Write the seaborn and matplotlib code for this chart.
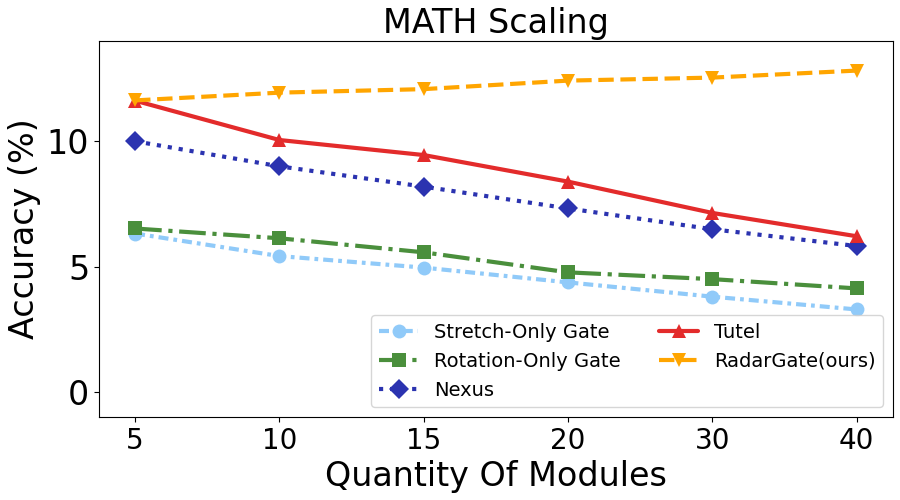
import matplotlib
matplotlib.use("Agg")
import matplotlib.pyplot as plt
import seaborn as sns
import pandas as pd

modules = ["5", "10", "15", "20", "30", "40"]
stretch_only = [6.32, 5.42, 4.96, 4.37, 3.80, 3.29]
rotation_only = [6.52, 6.13, 5.57, 4.77, 4.50, 4.13]
nexus = [10.0, 9.0, 8.19, 7.32, 6.49, 5.82]
tutel = [11.62, 10.05, 9.45, 8.39, 7.14, 6.21]
radargate = [11.63, 11.94, 12.08, 12.42, 12.54, 12.82]

series = [
    ("Stretch-Only Gate", stretch_only, "#90CAF9", "o", (0, (2.4, 1.2, 0.9, 1.2))),
    ("Rotation-Only Gate", rotation_only, "#4A8F3C", "s", "-."),
    ("Nexus", nexus, "#2B33B0", "D", ":"),
    ("Tutel", tutel, "#E32B2B", "^", "-"),
    ("RadarGate(ours)", radargate, "#FFA500", "v", "--"),
]

sns.set_style("ticks")
plt.rcParams['font.family'] = ['DejaVu Sans']
plt.rcParams['text.color'] = 'black'
plt.rcParams['axes.labelcolor'] = 'black'
plt.rcParams['xtick.color'] = 'black'
plt.rcParams['ytick.color'] = 'black'
fig, ax = plt.subplots(figsize=(9, 5), dpi=100)

for name, vals, color, marker, ls in series:
    df = pd.DataFrame({"Modules": modules, "Accuracy": vals})
    sns.lineplot(data=df, x="Modules", y="Accuracy", ax=ax, color=color,
                 marker=marker, markersize=10, markeredgewidth=0,
                 linewidth=3, linestyle=ls, label=name, sort=False)

ax.set_xlim(-0.25, 5.25)
ax.set_ylim(-1, 14)
ax.set_yticks([0, 5, 10])
ax.set_title("MATH Scaling", fontsize=24, color="black")
ax.set_xlabel("Quantity Of Modules", fontsize=24, color="black")
ax.set_ylabel("Accuracy (%)", fontsize=24, color="black")
ax.tick_params(axis='x', labelsize=20, colors="black")
ax.tick_params(axis='y', labelsize=24, colors="black")
for s in ax.spines.values():
    s.set_visible(True)
    s.set_color("black")
leg = ax.legend(loc="lower right", ncol=2, fontsize=14, handlelength=2)
for t in leg.get_texts():
    t.set_color("black")
fig.subplots_adjust(left=0.11, right=0.992, top=0.918, bottom=0.166)
fig.savefig("out.png", dpi=100)
